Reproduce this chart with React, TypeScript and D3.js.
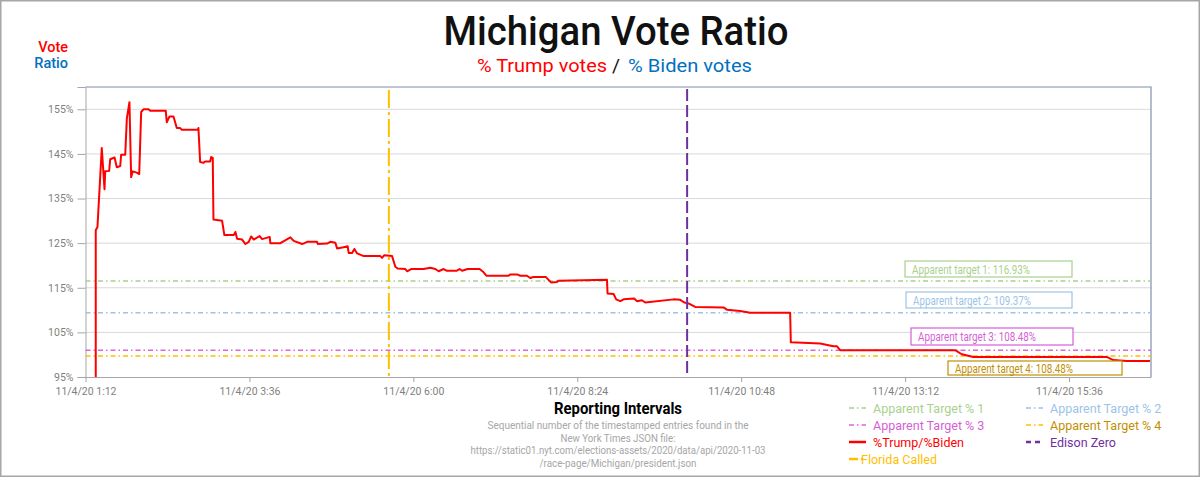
import React, { useEffect, useRef } from "react";
import * as d3 from "d3";

// minutes after midnight of 11/4/20
const minutes = [
  81.0, 81.0, 82.5, 86.3, 88.7, 89.3, 92.8, 93.7, 97.5, 99.5,
  102.5, 103.3, 106.9, 108.3, 110.6, 112.1, 113.5, 117.0, 119.2, 120.9,
  122.9, 127.3, 128.8, 142.5, 143.4, 145.8, 149.3, 152.2, 155.2, 156.6,
  170.6, 171.2, 172.7, 175.6, 177.1, 181.5, 182.4, 183.8, 184.4, 192.0,
  194.0, 202.2, 203.7, 205.2, 209.6, 212.5, 215.4, 217.5, 219.8, 225.0,
  227.2, 233.8, 234.4, 243.2, 252.0, 254.9, 262.3, 266.7, 275.4, 276.0,
  284.2, 287.1, 291.5, 293.0, 298.8, 302.3, 303.2, 306.2, 308.2, 310.6,
  316.4, 331.0, 332.5, 334.5, 341.3, 344.2, 346.2, 353.0, 354.5, 358.0,
  369.0, 374.9, 379.3, 382.2, 386.6, 389.6, 397.8, 400.7, 402.8, 407.7,
  418.2, 421.2, 424.1, 443.7, 445.2, 451.1, 454.0, 459.8, 462.7, 465.6,
  476.5, 480.9, 486.2, 487.6, 530.1, 530.6, 535.9, 538.2, 541.8, 544.7,
  554.0, 556.4, 560.8, 563.7, 588.6, 594.4, 598.0, 601.7, 607.6, 632.5,
  635.4, 647.1, 655.9, 691.0, 691.6, 717.4, 729.0, 732.0, 734.9, 835.9,
  841.8, 852.0, 969.1, 974.9, 986.7, 1007.1,
];

// %Trump / %Biden
const ratio = [
  95, 127.9, 128.6, 146.3, 137.1, 141.1, 141.2, 143.8, 144.2, 142.0,
  142.3, 144.8, 144.8, 152.9, 156.6, 139.8, 141.1, 140.8, 140.5, 154.4,
  155.0, 155.0, 154.7, 154.7, 152.1, 153.4, 153.4, 150.8, 150.8, 150.4,
  150.4, 150.8, 143.2, 143.0, 143.3, 143.3, 144.3, 144.1, 130.3, 130.0,
  126.8, 126.8, 127.5, 126.0, 125.8, 124.8, 125.3, 126.5, 125.8, 126.6,
  125.9, 126.4, 125.0, 125.0, 126.3, 125.5, 124.8, 125.3, 125.3, 124.8,
  124.9, 125.3, 125.1, 123.8, 124.1, 124.3, 122.8, 122.8, 123.7, 122.7,
  122.1, 122.1, 121.7, 122.3, 122.1, 119.7, 119.3, 119.2, 118.7, 119.2,
  119.2, 119.5, 119.2, 118.7, 119.2, 118.8, 118.8, 119.2, 118.8, 119.2,
  119.2, 118.6, 117.7, 117.7, 118.0, 118.0, 117.7, 117.7, 117.2, 117.4,
  117.4, 116.2, 116.3, 116.6, 116.8, 113.7, 113.6, 112.4, 112.0, 112.4,
  112.6, 112.0, 112.2, 111.7, 112.4, 112.3, 111.7, 111.5, 110.7, 110.6,
  110.1, 109.8, 109.4, 109.4, 102.8, 102.5, 101.9, 101.9, 101.0, 101.0,
  100.1, 99.5, 99.5, 98.8, 98.6, 98.6,
];

const targetNames = ["Apparent Target % 1", "Apparent Target % 2", "Apparent Target % 3", "Apparent Target % 4"];
const targetValues = [116.5, 109.4, 101.0, 99.7];
const targetLabels = [
  "Apparent target 1: 116.93%",
  "Apparent target 2: 109.37%",
  "Apparent target 3: 108.48%",
  "Apparent target 4: 108.48%",
];
const targetColors = ["#a9d18e", "#9dc3e6", "#dc67dc", "#ffc000"];
const targetTextColors = ["#a9d18e", "#9dc3e6", "#d65fd6", "#bf9000"];

const floridaCalled = 338.5; // minutes
const edisonZero = 600.5;

const xDomain = [72, 1008];
const xTicks = [72, 216, 360, 504, 648, 792, 936];
const yDomain = [95, 160];
const yTicks = [95, 105, 115, 125, 135, 145, 155];

const noteLines = [
  "Sequential number of the timestamped entries found in the",
  "New York Times JSON file:",
  "https://static01.nyt.com/elections-assets/2020/data/api/2020-11-03",
  "/race-page/Michigan/president.json",
];

const RED = "#ff0000";
const BLUE = "#0070c0";
const PURPLE = "#7030a0";
const YELLOW = "#ffc000";
const FONT = "Roboto, 'DejaVu Sans', sans-serif";

const App: React.FC = () => {
  const svgRef = useRef<SVGSVGElement | null>(null);

  useEffect(() => {
    document.body.style.margin = "0";
    const width = 1200;
    const height = 477;
    const left = 85.5;
    const right = 1151;
    const top = 87;
    const bottom = 377;

    const svg = d3.select(svgRef.current);
    svg.selectAll("*").remove();
    svg.attr("width", width).attr("height", height).style("display", "block");

    const x = d3.scaleLinear().domain(xDomain).range([left, right]);
    const y = d3.scaleLinear().domain(yDomain).range([bottom, top]);

    svg.append("rect").attr("width", width).attr("height", height).attr("fill", "#fff");
    svg
      .append("rect")
      .attr("x", 0.75)
      .attr("y", 0.75)
      .attr("width", width - 1.5)
      .attr("height", height - 1.5)
      .attr("fill", "none")
      .attr("stroke", "#a6a6a6")
      .attr("stroke-width", 1.5);

    // 文本辅助函数
    const text = (
      t: string,
      tx: number,
      ty: number,
      size: number,
      color: string,
      anchor = "start",
      weight: number | string = 400,
      len?: number,
    ) => {
      const el = svg
        .append("text")
        .attr("x", tx)
        .attr("y", ty)
        .attr("font-family", FONT)
        .attr("font-size", size)
        .attr("font-weight", weight)
        .attr("fill", color)
        .attr("text-anchor", anchor)
        .text(t);
      if (len) el.attr("textLength", len).attr("lengthAdjust", "spacingAndGlyphs");
      return el;
    };

    text("Michigan Vote Ratio", 616, 45, 40, "#111", "middle", 500, 345);
    text("% Trump votes", 477, 72, 19, RED, "start", 400, 130);
    text("/", 612, 72, 19, "#111", "start", 400, 8);
    text("% Biden votes", 628, 72, 19, BLUE, "start", 400, 124);
    text("Vote", 68, 52, 14.5, RED, "end", 500);
    text("Ratio", 68, 68, 14.5, BLUE, "end", 500);

    // grid
    svg
      .append("g")
      .selectAll("line")
      .data(yTicks.filter((d) => d !== yDomain[0]))
      .join("line")
      .attr("x1", left)
      .attr("x2", right)
      .attr("y1", (d) => y(d))
      .attr("y2", (d) => y(d))
      .attr("stroke", "#d9d9d9")
      .attr("stroke-width", 1);

    // plot border
    svg
      .append("path")
      .attr("d", `M${left},${top}H${right}V${bottom}`)
      .attr("fill", "none")
      .attr("stroke", "#8090aa")
      .attr("stroke-width", 1.2);

    // y axis
    const gy = svg
      .append("g")
      .attr("transform", `translate(${left},0)`)
      .call(
        d3
          .axisLeft(y)
          .tickValues(yTicks)
          .tickSize(8)
          .tickPadding(4)
          .tickFormat((d) => `${d}%`),
      );
    gy.select(".domain").attr("stroke", "#a6a6a6");
    gy.selectAll(".tick line").attr("stroke", "#a6a6a6");
    gy.selectAll("text")
      .attr("font-family", FONT)
      .attr("font-size", 10.5)
      .attr("fill", "#7f7f7f");

    // x axis
    const fmt = (m: number) => `11/4/20 ${Math.floor(m / 60)}:${String(Math.round(m % 60)).padStart(2, "0")}`;
    const gx = svg
      .append("g")
      .attr("transform", `translate(0,${bottom})`)
      .call(
        d3
          .axisBottom(x)
          .tickValues(xTicks)
          .tickSize(5)
          .tickPadding(6)
          .tickSizeOuter(0)
          .tickFormat((d) => fmt(d as number)),
      );
    gx.select(".domain").attr("stroke", "#a6a6a6");
    gx.selectAll(".tick line").attr("stroke", "#a6a6a6");
    gx.selectAll("text")
      .attr("font-family", FONT)
      .attr("font-size", 10.5)
      .attr("fill", "#7f7f7f");

    // target lines
    const dashDot = "5,3,1.5,3";
    svg
      .append("g")
      .selectAll("line")
      .data(targetValues)
      .join("line")
      .attr("x1", left)
      .attr("x2", right)
      .attr("y1", (d) => y(d))
      .attr("y2", (d) => y(d))
      .attr("stroke", (_, i) => targetColors[i])
      .attr("stroke-width", 1.5)
      .attr("stroke-dasharray", dashDot);

    // %Trump/%Biden
    const pts = d3.zip(minutes, ratio) as [number, number][];
    const line = d3
      .line<[number, number]>()
      .x((d) => x(d[0]))
      .y((d) => y(d[1]));
    svg
      .append("path")
      .datum(pts)
      .attr("d", line)
      .attr("fill", "none")
      .attr("stroke", RED)
      .attr("stroke-width", 2)
      .attr("stroke-linejoin", "round");

    // vertical markers
    svg
      .append("line")
      .attr("x1", x(floridaCalled))
      .attr("x2", x(floridaCalled))
      .attr("y1", top + 3)
      .attr("y2", bottom)
      .attr("stroke", YELLOW)
      .attr("stroke-width", 2)
      .attr("stroke-dasharray", "18,4,3,4");
    svg
      .append("line")
      .attr("x1", x(edisonZero))
      .attr("x2", x(edisonZero))
      .attr("y1", top + 2)
      .attr("y2", bottom)
      .attr("stroke", PURPLE)
      .attr("stroke-width", 2)
      .attr("stroke-dasharray", "12,4");

    // 标签框
    const boxes = [
      [905, 261, 167, 16],
      [906, 292, 166, 16],
      [911, 328, 162, 17],
      [948, 361, 174, 14],
    ];
    boxes.forEach((b, i) => {
      svg
        .append("rect")
        .attr("x", b[0])
        .attr("y", b[1])
        .attr("width", b[2])
        .attr("height", b[3])
        .attr("fill", "#fff")
        .attr("stroke", targetTextColors[i])
        .attr("stroke-width", 1.2);
      text(targetLabels[i], b[0] + 7, b[1] + b[3] / 2 + 4.5, 12.5, targetTextColors[i], "start", 400, 118);
    });

    // axis title + note
    text("Reporting Intervals", 618, 414, 16, "#000", "middle", 700, 128);
    const noteLens = [261, 115, 295, 157];
    noteLines.forEach((t, i) => {
      text(t, 618, 429 + i * 12.7, 11, "#a6a6a6", "middle", 400, noteLens[i]);
    });

    // legend
    const legend = [
      { name: targetNames[0], color: targetColors[0], tc: targetTextColors[0], dash: dashDot, w: 1.5, col: 0, row: 0 },
      { name: targetNames[1], color: targetColors[1], tc: targetTextColors[1], dash: dashDot, w: 1.5, col: 1, row: 0 },
      { name: targetNames[2], color: targetColors[2], tc: targetTextColors[2], dash: dashDot, w: 1.5, col: 0, row: 1 },
      { name: targetNames[3], color: targetColors[3], tc: targetTextColors[3], dash: dashDot, w: 1.5, col: 1, row: 1 },
      { name: "%Trump/%Biden", color: RED, tc: RED, dash: "none", w: 2.5, col: 0, row: 2 },
      { name: "Edison Zero", color: PURPLE, tc: PURPLE, dash: "5,4", w: 2.5, col: 1, row: 2 },
      { name: "Florida Called", color: YELLOW, tc: YELLOW, dash: "9,3,2,3", w: 2.5, col: 0, row: 3 },
    ];
    const colX = [849, 1026];
    legend.forEach((l) => {
      const lx = colX[l.col];
      const ly = 408 + l.row * 17;
      svg
        .append("line")
        .attr("x1", lx)
        .attr("x2", lx + 17)
        .attr("y1", ly)
        .attr("y2", ly)
        .attr("stroke", l.color)
        .attr("stroke-width", l.w)
        .attr("stroke-dasharray", l.dash);
      text(l.name, lx + (l.name === "Florida Called" ? 12 : 24), ly + 4.5, 12.5, l.tc, "start", 400);
    });
  }, []);

  return <svg ref={svgRef}></svg>;
};

export default App;
